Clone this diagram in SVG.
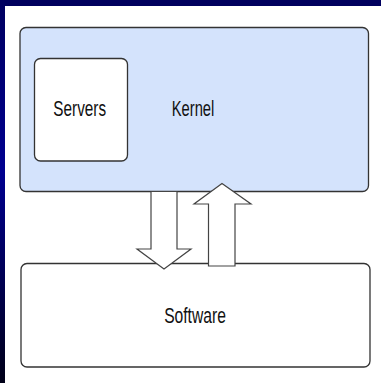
<svg xmlns="http://www.w3.org/2000/svg" width="381" height="383" viewBox="0 0 381 383">
  <defs>
    <linearGradient id="leftbar" x1="0" y1="0" x2="0" y2="1">
      <stop offset="0" stop-color="#000060"/>
      <stop offset="0.45" stop-color="#000090"/>
      <stop offset="1" stop-color="#000018"/>
    </linearGradient>
    <style>
      .box { stroke: #333333; stroke-width: 1.3; }
      .arrow { fill: #ffffff; stroke: #444444; stroke-width: 1.2; stroke-linejoin: miter; }
      .lbl { font-family: "Liberation Sans", Arial, sans-serif; font-size: 22px; fill: #111111; text-anchor: middle; }
    </style>
  </defs>
  <rect x="0" y="0" width="381" height="383" fill="#ffffff"/>
  <rect x="0" y="0" width="381" height="6" fill="#00005e"/>
  <rect x="0" y="0" width="5" height="383" fill="url(#leftbar)"/>

  <g id="kernel">
    <rect class="box" x="20" y="27.5" width="348.5" height="164" rx="6" fill="#d4e3fc"/>
    <text class="lbl" x="193" y="115.7" textLength="42.6" lengthAdjust="spacingAndGlyphs">Kernel</text>
  </g>
  <g id="servers">
    <rect class="box" x="34.5" y="58.5" width="93" height="102.5" rx="6" fill="#ffffff"/>
    <text class="lbl" x="79.7" y="116" textLength="52.7" lengthAdjust="spacingAndGlyphs">Servers</text>
  </g>
  <g id="software">
    <rect class="box" x="21" y="263.5" width="349" height="103.5" rx="6" fill="#ffffff"/>
    <text class="lbl" x="195" y="322.7" font-size="20" textLength="61.7" lengthAdjust="spacingAndGlyphs">Software</text>
  </g>

  <g id="connectors">
    <polygon class="arrow" points="151,191.5 177,191.5 177,249 191,249 164,269 137,249 151,249"/>
    <polygon class="arrow" points="222,183.5 251,204 235,204 235,266 208.5,266 208.5,204 194,204"/>
  </g>
</svg>
